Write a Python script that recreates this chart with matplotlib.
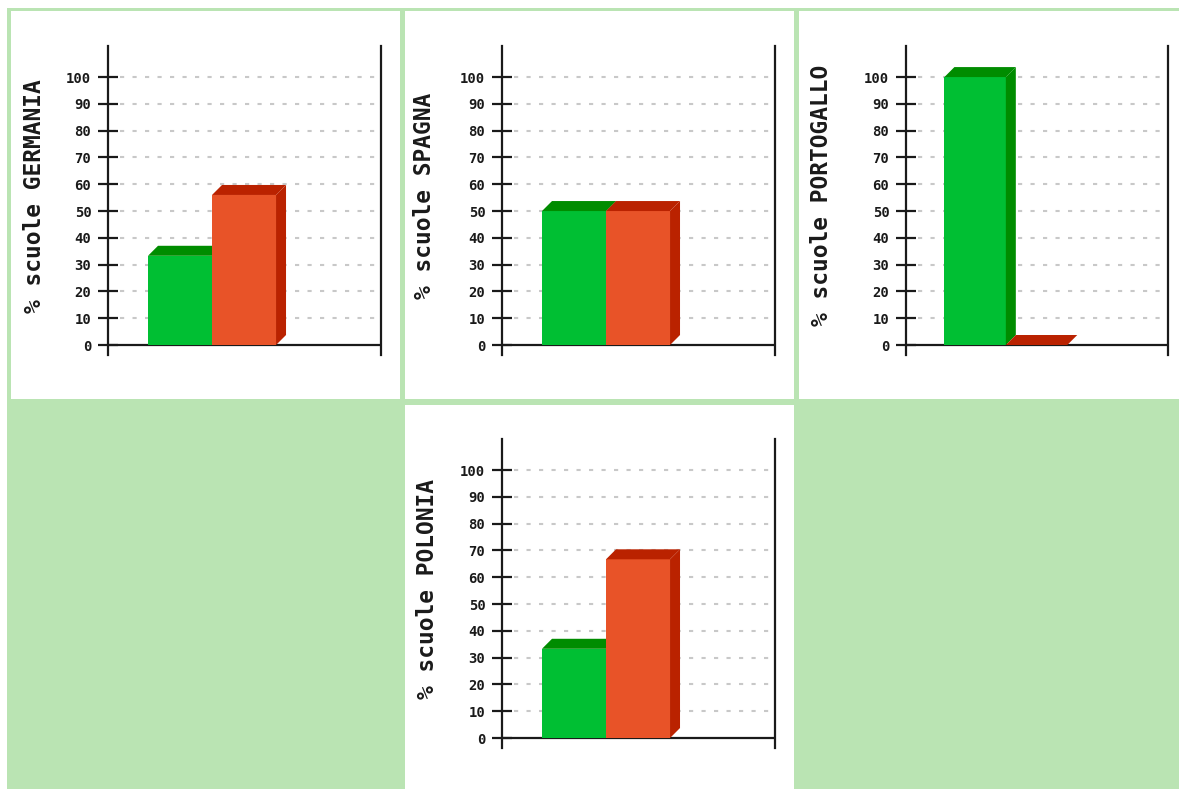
import numpy as np
import matplotlib
matplotlib.use("Agg")
import matplotlib.pyplot as plt
from matplotlib.patches import Rectangle, Polygon

# dati (percentuale scuole per paese)
paesi = ["GERMANIA", "SPAGNA", "PORTOGALLO", "POLONIA"]
verde = [33.3, 50, 100, 33.3]
rosso = [56, 50, 0, 66.7]
yticks = list(range(0, 101, 10))

W, H = 1179, 789
fig = plt.figure(figsize=(W / 100, H / 100), dpi=100)
fig.patch.set_facecolor("white")

def fig_rect(x0, y0, x1, y1, color):
    # rettangolo in pixel (origine in alto a sinistra)
    r = Rectangle((x0 / W, 1 - y1 / H), (x1 - x0) / W, (y1 - y0) / H,
                  transform=fig.transFigure, facecolor=color, edgecolor="none", zorder=0)
    fig.add_artist(r)

# tabella verde con celle bianche
fig_rect(7, 8, W, H, "#bae4b3")
celle = [(11, 11, 400, 399), (405, 11, 794, 399), (799, 11, W, 399), (405, 405, 794, H)]
for c in celle:
    fig_rect(*c, "white")

# posizione assi in pixel: sinistra, destra, alto, basso, centro etichetta
layout = [
    (108, 381, 46, 355, 35),
    (502, 775, 46, 355, 425),
    (906, 1168, 46, 355, 822),
    (502, 775, 439, 748, 428),
]

xlim = (-0.625, 3.64)
ylim = (-3.73, 111.6)
colori = [("#00bf33", "#008c00", "#008c00"), ("#e85328", "#ba2200", "#ba2200")]
scuro = "#1a1a1a"
mono = "DejaVu Sans Mono"

def barra3d(ax, x0, h, front, top, side, dx, dy):
    ax.bar(x0, h, width=1, align="edge", color=front, edgecolor="none", zorder=3)
    ax.add_patch(Polygon([(x0, h), (x0 + dx, h + dy), (x0 + 1 + dx, h + dy), (x0 + 1, h)],
                         closed=True, facecolor=top, edgecolor="none", zorder=3))
    ax.add_patch(Polygon([(x0 + 1, 0), (x0 + 1, h), (x0 + 1 + dx, h + dy), (x0 + 1 + dx, dy)],
                         closed=True, facecolor=side, edgecolor="none", zorder=3))

for i, paese in enumerate(paesi):
    left, right, top, bottom, lab_x = layout[i]
    ax = fig.add_axes([left / W, 1 - bottom / H, (right - left) / W, (bottom - top) / H])
    ax.set_facecolor("none")
    ax.set_xlim(*xlim)
    ax.set_ylim(*ylim)

    # profondità 3D di circa 10 px
    dx = 10 * (xlim[1] - xlim[0]) / (right - left)
    dy = 10 * (ylim[1] - ylim[0]) / (bottom - top)

    for j, val in enumerate([verde[i], rosso[i]]):
        f, t, s = colori[j]
        barra3d(ax, j, val, f, t, s, dx, dy)

    ax.axhline(0, color=scuro, lw=1.6, zorder=2)
    ax.set_yticks(yticks)
    ax.set_xticks([])
    # griglia tratteggiata che parte poco dopo l'asse
    ax.hlines(yticks[1:], 0.045, 0.99, transform=ax.get_yaxis_transform(),
              colors="#c8c8c8", linestyles=(0, (2, 4)), linewidth=1.5, zorder=0)
    for sp in ["top", "bottom"]:
        ax.spines[sp].set_visible(False)
    for sp in ["left", "right"]:
        ax.spines[sp].set_color(scuro)
        ax.spines[sp].set_linewidth(1.6)
    ax.tick_params(axis="y", direction="inout", length=14, width=1.6, color=scuro,
                   pad=5, labelsize=10, labelcolor=scuro)
    for lbl in ax.get_yticklabels():
        lbl.set_fontfamily(mono)
        lbl.set_fontweight("bold")

    ax.set_ylabel("% scuole " + paese, fontfamily=mono, fontweight="bold",
                  fontsize=16.5, color=scuro, va="center")
    ax.yaxis.set_label_coords((lab_x - left) / (right - left), 0.515)

fig.savefig("out.png", dpi=100)
